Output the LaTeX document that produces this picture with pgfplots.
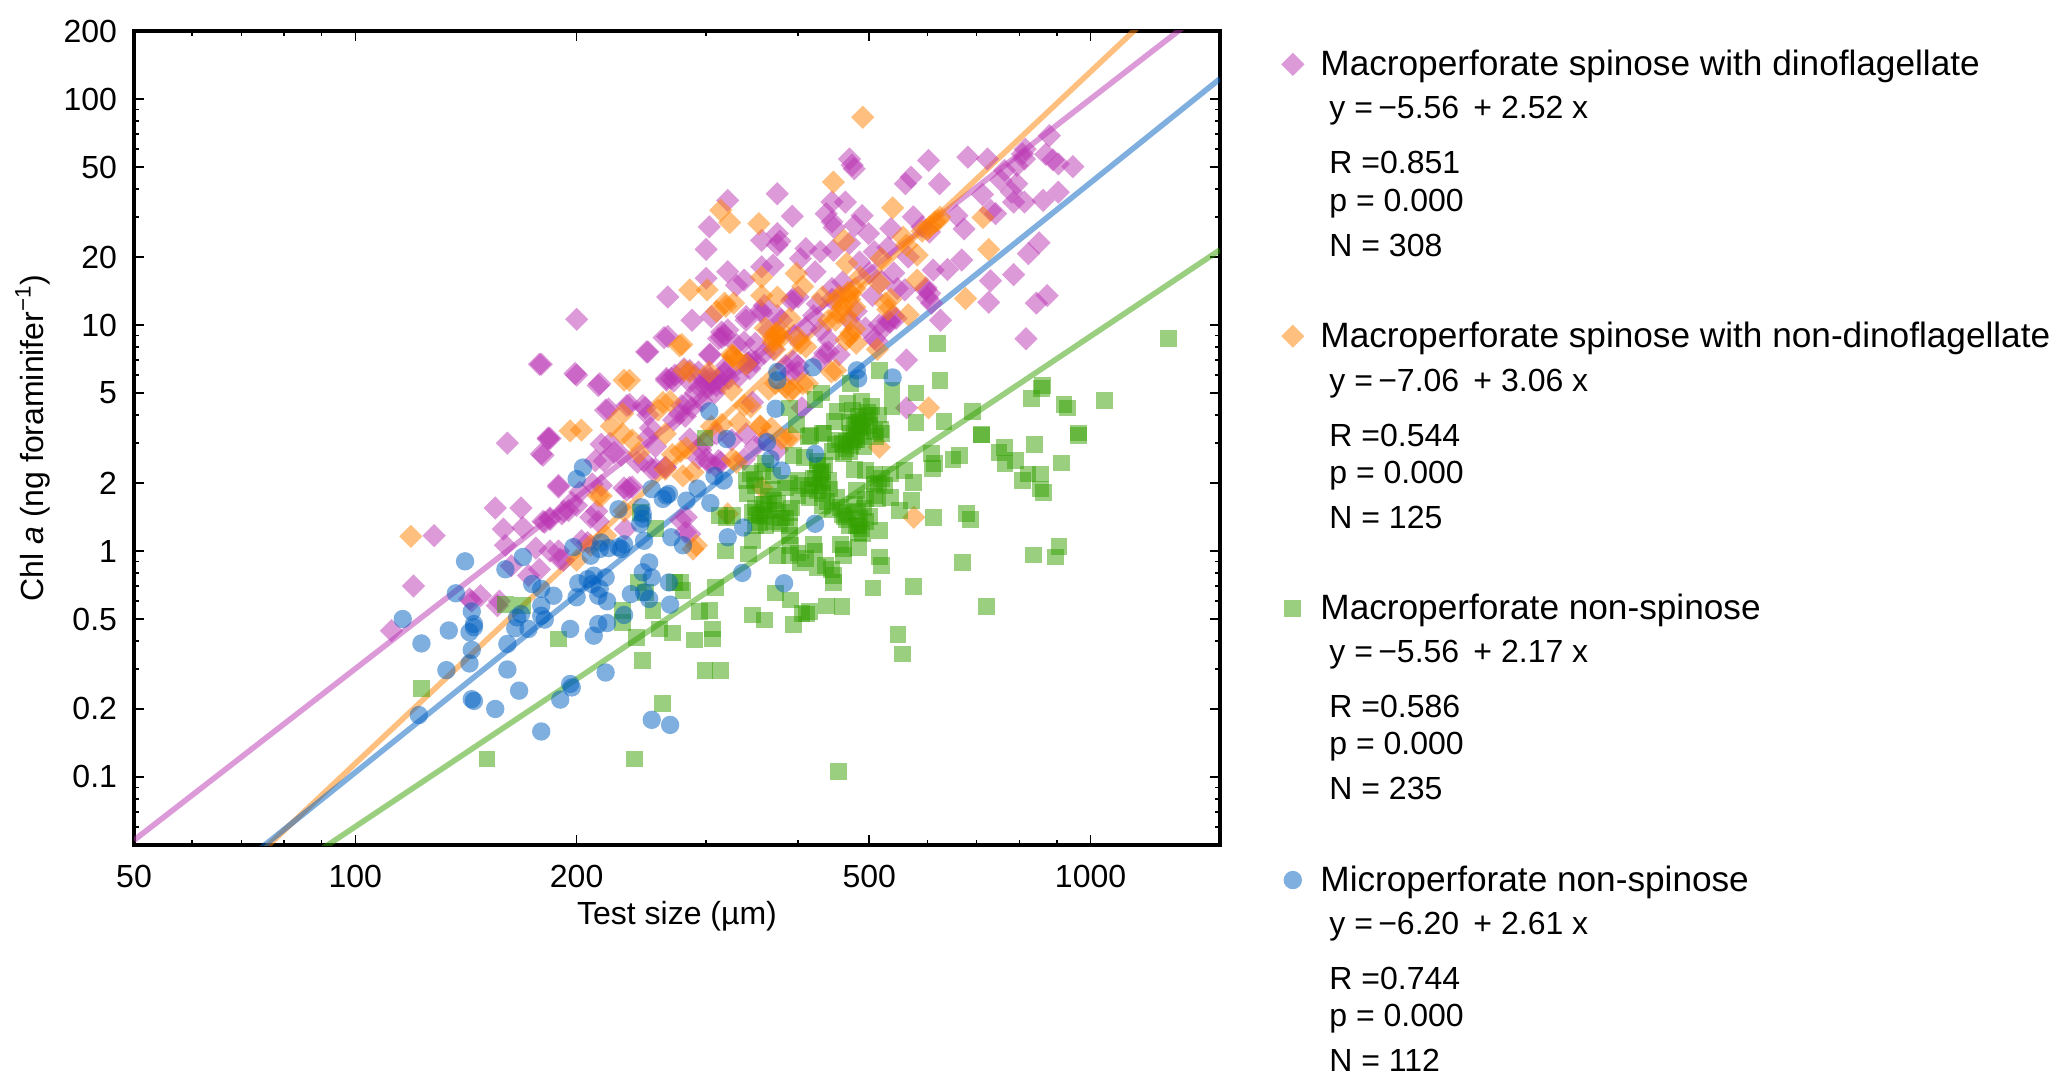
\documentclass[border=0pt]{standalone}
\usepackage{fontspec}
\setmainfont{Liberation Sans}
\usepackage{pgfplots}
\pgfplotsset{compat=1.18}
\definecolor{cdino}{HTML}{BA35B3}
\definecolor{cnon}{HTML}{FF8000}
\definecolor{cgreen}{HTML}{33A000}
\definecolor{cblue}{HTML}{0060C0}
\newcommand{\stats}[5]{%
  \node[anchor=base west] at (1329,#1+56) {y =\,−#2\, + #3 x};
  \node[anchor=base west] at (1329,#1+111) {R =#4};
  \node[anchor=base west] at (1329,#1+148) {p = 0.000};
  \node[anchor=base west] at (1329,#1+193) {N = #5};
}
\begin{document}
\begin{tikzpicture}
\begin{loglogaxis}[
    width=543pt, height=407pt, scale only axis,
    xmin=50, xmax=1500, ymin=0.05, ymax=200,
    xtick={50,100,200,500,1000},
    xticklabels={50,100,200,500,1000},
    minor xtick={60,70,80,90,300,400,600,700,800,900},
    ytick={0.1,0.2,0.5,1,2,5,10,20,50,100,200},
    yticklabels={0.1,0.2,0.5,1,2,5,10,20,50,100,200},
    minor ytick={0.06,0.07,0.08,0.09,0.3,0.4,0.6,0.7,0.8,0.9,3,4,6,7,8,9,30,40,60,70,80,90},
    major tick length=5pt, minor tick length=2.6pt,
    tick style={black, line width=0.8pt},
    axis line style={line width=1.8pt},
    tick label style={font=\fontsize{16}{18}\selectfont},
    xticklabel style={yshift=-6.5pt},
    yticklabel style={xshift=-5pt},
    label style={font=\fontsize{16}{18}\selectfont},
    xlabel={Test size (µm)},
    ylabel={Chl \textit{a} (ng foraminifer\textsuperscript{−1})},
    legend style={at={(1.056,0.982)}, anchor=north west, draw=none, fill=none,
      font=\fontsize{17.6}{20}\selectfont, row sep=117.7pt, column sep=6pt, inner sep=0pt},
    legend cell align=left,
]
% Macroperforate spinose with dinoflagellate
\addplot[only marks, mark=square*, mark size=4.1pt,
    mark options={rotate=45, draw opacity=0, fill=cdino, fill opacity=0.5}] coordinates {
(879,68.9)(946,50.2)(904,51.6)(889,53.8)(869,57)(813,54.3)(794,50.8)(808,57.1)(815,60)(764,48.3)(755,43.7)(794,42.2)(781,38.7)(786,35)(813,35)(862,35.6)(904,38.7)(713,37.8)(743,31.1)(731,32.2)(724,54.3)(681,55.3)(602,53.5)(623,42.2)(570,45.1)(560,42.2)(470,54.3)(477,49.1)(474,51)(375,38.1)(321,35.6)(303,27.2)(300,21.6)(357,23.7)(375,25.4)(375,22.6)(378,23.5)(393,30.3)(445,35)(464,35)(437,31.1)(445,28.6)(448,27)(489,30.5)(574,30.1)(535,26.7)(604,25.8)(590,27.2)(658,30.5)(673,26.6)(478,27.6)(499,25.4)(410,21.8)(429,21.1)(447,21.4)(403,19.7)(321,17.2)(300,16.1)(338,15.8)(330,15)(370,18.4)(357,18.1)(422,17.2)(508,21.1)(565,20)(611,17.5)(639,17.6)(668,19.4)(851,23.1)(823,20.7)(731,15.7)(786,16.7)(727,12.6)(844,12.5)(873,13.5)(817,8.7)(625,10.5)(604,13.8)(559,14.3)(546,14.5)(597,14.3)(608,12.5)(539,10.9)(534,10.3)(287,10.5)(305,10.9)(340,10.9)(318,9)(312,8.7)(338,8.4)(357,11.3)(394,13.1)(410,9.7)(445,14.5)(505,13.5)(494,9.7)(508,8.7)(562,7)(435,7.5)(304,7.4)(341,6.8)(318,6.1)(344,6.4)(332,5.9)(285,6.3)(305,5.5)(294,5.3)(282,4.5)(390,6.1)(394,6.9)(562,4.3)
(266,13.3)(200,10.6)(266,8.9)(250,7.6)(178,6.7)(200,6)(214,5.4)(269,5.8)(272,6)(265,5.7)(219,4.2)(234,4.4)(246,4.4)(250,4)(183,3.16)(161,3)(183,3.13)(179,2.69)(216,2.97)(225,2.73)(212,2.51)(242,2.47)(250,3.18)(189,1.95)(155,1.55)(168,1.55)(159,1.25)(169,1.27)(181,1.34)(184,1.38)(191,1.46)(195,1.51)(200,1.59)(209,1.41)(210,1.98)(202,1.82)(236,1.91)(232,1.9)(160,1.06)(176,1.03)(189,1)(203,1.11)(178,0.83)(163,0.86)(190,0.92)(172,0.78)(120,0.7)(128,1.17)(112,0.444)(148,0.634)(143,0.613)(144,0.6)(156,0.573)(157,0.6)(256,2.31)(264,2.34)
(249,7.6)(263,8.8)(199,6.1)(215,5.5)(179,6.7)(184,3.15)(180,2.65)(221,4.25)(236,4.45)(248,4.3)(252,3.5)(222,3)(230,2.65)(218,2.5)(247,2.5)(256,2.9)(253,2.3)(264,2.35)(189,1.92)(216,1.95)(238,1.92)(234,1.86)(197,1.64)(192,1.5)(184,1.4)(180,1.35)(214,1.35)(213,1.5)(233,1.25)(277,1.37)(281,1.21)(207,1.09)(184,1)(192,0.91)
(265,5.8)(271,5.65)(280,6.4)(303,7.4)(300,5.3)(312,5.8)(318,6.2)(308,5)(320,6.6)(315,8.8)(330,8.2)(343,6.8)(350,6.9)(400,6.6)(440,7.6)(293,6.2)(281,3.95)(276,4.05)(287,4.3)(271,3.8)(278,4.4)(347,4.55)(405,4.3)(303,2.45)(314,2.47)(293,2.57)(309,2.37)(338,2.55)(305,5.6)(310,5.4)(298,5.7)(302,6)(315,5.5)(322,5.8)(285,5.6)(290,5)(296,4.6)
(321,9.5)(315,9.3)(300,5.6)(304,5.8)(356,11.6)(516,10)(525,9.8)(512,8.5)(544,10.7)(530,10.4)(597,14.6)(600,13.2)(445,13)(392,12.8)(400,13.3)(345,7)(360,7.5)(370,7.8)(385,6.6)(400,6.2)(430,7)(455,7.4)(340,10.5)(285,3.13)(300,2.55)(312,2.51)(282,1.41)(285,1.19)(295,2.8)(298,3)(310,3.3)(325,3.1)(340,3.3)(350,2.9)(360,3.1)(375,2.8)(420,11)(430,9.5)(440,8.6)(470,10.5)(480,11.5)(395,9)(380,10.5)(365,9.5)(350,8.3)(360,12.2)(375,11)(425,12.4)(460,15.5)(500,17)(520,15.6)(540,17)(485,19)(470,23)(530,22)
};
\addlegendentry{Macroperforate spinose with dinoflagellate}
\addplot[cdino, opacity=0.5, line width=2.8pt, forget plot] coordinates {(50,0.0525)(1500,278)};
% Macroperforate spinose with non-dinoflagellate
\addplot[only marks, mark=square*, mark size=4.1pt,
    mark options={rotate=45, draw opacity=0, fill=cnon, fill opacity=0.5}] coordinates {
(119,1.16)(214,1.76)(196,3.4)(232,5.7)(490,83)(447,42.9)(314,32.2)(323,28.4)(354,28.1)(538,33)(714,29.9)(727,21.6)(624,30)(604,27.2)(614,28.6)(590,26)(600,26.5)(620,29)(556,24.5)(462,23.7)(581,20.4)(466,18.7)(519,19.7)(562,22.6)(285,14.3)(301,14.3)(357,16.3)(398,16.9)(581,15.8)(676,13.1)(319,12.1)(327,12.5)(375,13.3)(357,13.5)(406,14.8)(432,13.3)(472,13.8)(486,16.3)(452,12.9)(516,15.3)(526,12.5)(565,11.1)(440,10.5)(454,11.3)(390,10.7)(373,9.2)(361,9.7)(472,9.2)(480,8.3)(403,8.3)(513,7.8)(326,7.25)(278,8.2)(285,6.2)(406,5.5)(444,6.2)(602,4.3)(373,5.5)(394,5.2)(338,4.4)(356,3.56)(305,3.56)(575,1.41)(291,1.06)(321,1.46)(357,1.91)(516,2.88)(386,3.13)
(236,5.7)(203,3.43)(276,8.1)(327,7.3)(370,8.8)(340,6.7)(280,6.3)(303,6.2)(325,5.15)(345,4.35)(333,3.7)(315,3.63)(355,3.57)(365,5.2)(385,5.3)(412,5.5)(450,6.3)(390,5.1)(262,4.55)(268,4.6)(258,4.2)(264,3.3)(223,3.57)(231,3.3)(238,3.1)(243,2.72)(231,4.05)(270,2.67)(277,2.76)(264,2.3)(279,2.15)(330,2.47)(288,2.23)(216,1.75)(232,1.5)(219,1.17)(209,1.06)(200,0.91)(288,1.02)(368,3.5)(392,3.2)(380,3.15)(370,8.4)(372,7.8)(460,12)(470,13)(450,10.5)(465,11)(478,12)
(468,14)(478,14.5)(455,13.4)(375,9)(378,9.5)(372,8.6)(380,8.8)(325,7.4)(330,7)(470,8.9)(478,9.6)(465,8.6)(318,12.5)(310,11.5)(400,8.8)(410,8)(535,13)(530,11.7)(282,2.85)(326,2.55)
};
\addlegendentry{Macroperforate spinose with non-dinoflagellate}
\addplot[cnon, opacity=0.5, line width=2.8pt, forget plot] coordinates {(70,0.0385)(1500,457)};
% Macroperforate non-spinose
\addplot[only marks, mark=square*, mark size=4.2pt,
    mark options={draw opacity=0, fill=cgreen, fill opacity=0.5}] coordinates {
(454,0.106)(299,0.295)(314,0.297)(547,0.426)(555,0.35)(722,0.567)(289,0.404)(306,0.408)(306,0.452)(394,0.472)(360,0.495)(347,0.521)(411,0.526)(415,0.54)(405,0.53)(437,0.571)(459,0.567)(391,0.607)(373,0.652)(303,0.545)(294,0.539)(309,0.69)(279,0.667)(277,0.726)(506,0.686)(575,0.695)(670,0.89)(836,0.96)(896,0.94)(906,1.05)(516,0.94)(519,0.86)(447,0.778)(447,0.726)(444,0.83)(436,0.86)(425,0.847)(403,0.89)(390,0.953)(375,0.953)(422,1)(461,1.02)(461,0.953)(483,1.04)(457,1.07)(391,1.06)(343,0.97)(319,1)(347,1.11)(483,1.21)(483,1.29)(485,1.39)(516,1.23)(550,1.51)(571,1.67)(612,1.41)(678,1.46)(687,1.38)(914,2.45)(862,1.82)(855,1.88)(822,2.19)(808,2.05)(855,2.19)(790,2.51)(764,2.88)(751,2.73)(765,2.44)(840,2.97)(664,2.64)(650,2.55)(608,2.69)(614,2.43)(609,2.31)(710,3.26)(962,3.24)(574,2.01)(558,2.27)(534,2.19)(508,2.19)(508,1.98)(494,2.27)(494,1.7)(480,1.85)(513,1.7)(534,1.73)(457,1.56)(452,1.73)(467,1.48)(432,1.59)(432,2.01)(429,2.23)(425,1.85)(413,1.88)(442,1.88)(461,2.69)(472,2.92)(480,3.24)(434,3.3)(416,3.24)(394,2.64)(408,2.6)(373,1.51)(390,1.48)(371,1.67)(355,1.34)(351,1.43)(390,1.29)(390,1.17)(347,1.48)(341,1.79)(313,1.43)(326,1.43)(349,2.08)(361,2.43)(369,1.88)
(189,0.408)(123,0.247)(151,0.12)(240,0.12)(262,0.212)(246,0.327)(241,0.415)(231,0.483)(231,0.545)(254,0.545)(259,0.452)(270,0.434)(160,0.582)(169,0.573)(243,0.726)(248,0.656)(256,1.26)(244,1.48)(272,0.726)
(619,8.3)(1276,8.7)(624,5.66)(691,4.15)(832,4.74)(857,5.25)(860,5.4)(920,4.44)(930,4.29)(1045,4.63)(632,3.75)(579,5)(579,3.71)(711,3.27)(962,3.33)(516,6.3)(537,5.16)(537,4.36)(504,4.37)(501,4)(518,3.44)(508,3.39)(483,3.21)(472,3.33)(483,3.94)(485,3.56)(467,4.5)(472,5.53)(452,4.15)(449,3.75)(431,5)(422,4.67)(432,3.33)(413,3.21)(398,3.62)(390,4.29)(299,3.16)
(360,1.6)(365,1.75)(375,1.62)(380,1.4)(400,1.75)(405,1.95)(415,1.72)(420,2.1)(425,2.4)(432,2.25)(438,1.65)(445,1.52)(360,1.42)(350,1.55)(478,3.6)(478,3.1)(490,3.4)(470,3.7)(465,3.05)(492,2.9)(497,4.1)(488,4.6)(475,4.2)(478,2.3)(462,1.42)(470,1.3)(492,1.55)(500,1.42)
(425,2.5)(430,2.2)(435,2.4)(422,2.1)(428,1.95)(432,1.8)(440,2.05)(418,1.95)(355,1.45)(362,1.3)(365,1.52)(370,1.35)(378,1.32)(385,1.4)(392,1.55)(350,1.3)(358,1.6)(460,1.45)(465,1.38)(480,1.3)(488,1.25)(490,1.2)(482,1.5)(478,1.6)(495,1.35)(455,3.1)(460,3)(465,2.85)(450,2.95)(470,2.75)(475,3.05)(445,2.75)(485,3.7)(490,3.8)(480,3.65)(495,3.9)(487,3.5)(480,3.1)(500,3.6)(510,3.2)(520,3.3)(515,4)(400,0.98)(410,0.93)(420,1.07)(320,1.4)(350,1.95)(345,2.2)(340,2.05)(358,2.25)(370,2.15)(385,1.9)(390,2)(400,2.05)(508,1.75)(515,2)(525,1.95)(520,2.1)
};
\addlegendentry{Macroperforate non-spinose}
\addplot[cgreen, opacity=0.5, line width=2.8pt, forget plot] coordinates {(70,0.0278)(1500,21.5)};
% Microperforate non-spinose
\addplot[only marks, mark=*, mark size=4.6pt,
    mark options={draw opacity=0, fill=cblue, fill opacity=0.5}] coordinates {
(116,0.5)(123,0.39)(141,0.9)(137,0.65)(134,0.445)(143,0.437)(145,0.475)(144,0.54)(145,0.46)(144,0.365)(143,0.318)(133,0.297)(144,0.221)(145,0.217)(122,0.188)(155,0.2)(167,0.241)(161,0.299)(161,0.388)(179,0.159)(190,0.22)(196,0.258)(197,0.249)(219,0.29)(253,0.179)(268,0.17)(160,0.83)(169,0.94)(174,0.714)(179,0.68)(186,0.634)(179,0.573)(166,0.508)(168,0.526)(179,0.517)(181,0.497)(165,0.455)(172,0.452)(196,0.452)(211,0.422)(214,0.475)(220,0.48)(200,0.624)(201,0.72)(207,0.751)(211,0.778)(210,0.714)(215,0.68)(219,0.764)(220,0.599)(214,0.634)(209,0.953)(215,1.02)(221,1.03)(228,1.04)(232,1.07)(230,1.02)(216,1.09)(198,1.04)(247,1.11)(237,0.645)(246,0.805)(251,0.89)(253,0.764)(247,0.656)(251,0.613)(232,0.521)(268,0.579)(267,0.726)(269,1.15)(228,1.53)(245,1.56)(246,1.46)(246,1.39)(244,1.32)(253,1.88)(265,1.76)(262,1.7)(267,1.79)(200,2.08)(204,2.34)
(320,3.13)(363,3.03)(367,2.55)(380,2.27)(422,2.69)(308,2.15)(317,2.05)(292,1.89)(282,1.67)(304,1.63)(337,1.27)(422,1.32)(321,1.15)(279,1.06)(336,0.8)(383,0.72)
(375,6.2)(375,5.7)(419,6.5)(481,6.3)(483,5.8)(538,5.86)(303,4.15)(373,4.26)
};
\addlegendentry{Microperforate non-spinose}
\addplot[cblue, opacity=0.5, line width=2.8pt, forget plot] coordinates {(70,0.0413)(1500,122.9)};
\end{loglogaxis}
% text of the fits, placed in reference pixels
\begin{scope}[x=0.5pt,y=-0.5pt,shift={(-134,-845)},font=\fontsize{16}{20}\selectfont,inner sep=0pt]
\stats{63}{5.56}{2.52}{0.851}{308}
\stats{335}{7.06}{3.06}{0.544}{125}
\stats{606}{5.56}{2.17}{0.586}{235}
\stats{878}{6.20}{2.61}{0.744}{112}
\pgfresetboundingbox
\path[use as bounding box] (0,0) rectangle (2067,1089);
\end{scope}
\end{tikzpicture}
\end{document}
